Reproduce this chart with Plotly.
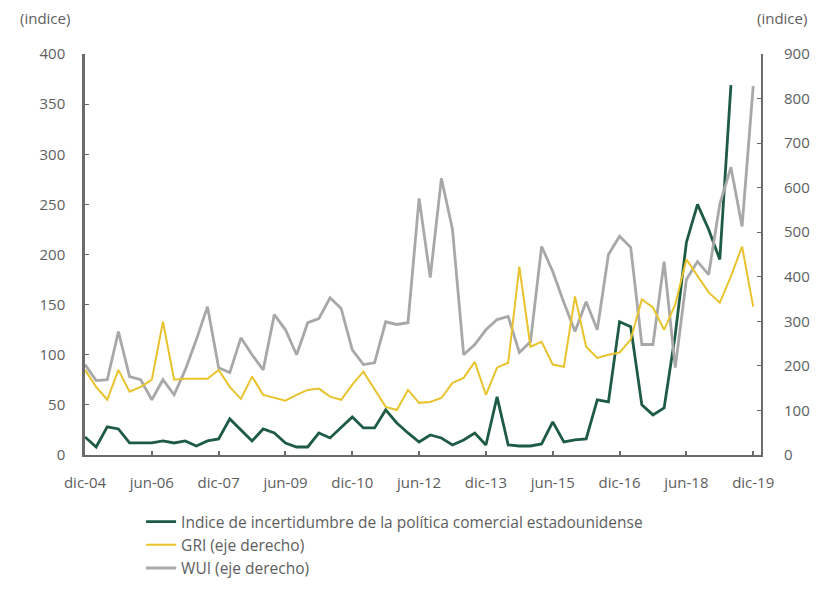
import plotly.graph_objects as go

quarters = [
    "dic-04",
    "mar-05", "jun-05", "sep-05", "dic-05",
    "mar-06", "jun-06", "sep-06", "dic-06",
    "mar-07", "jun-07", "sep-07", "dic-07",
    "mar-08", "jun-08", "sep-08", "dic-08",
    "mar-09", "jun-09", "sep-09", "dic-09",
    "mar-10", "jun-10", "sep-10", "dic-10",
    "mar-11", "jun-11", "sep-11", "dic-11",
    "mar-12", "jun-12", "sep-12", "dic-12",
    "mar-13", "jun-13", "sep-13", "dic-13",
    "mar-14", "jun-14", "sep-14", "dic-14",
    "mar-15", "jun-15", "sep-15", "dic-15",
    "mar-16", "jun-16", "sep-16", "dic-16",
    "mar-17", "jun-17", "sep-17", "dic-17",
    "mar-18", "jun-18", "sep-18", "dic-18",
    "mar-19", "jun-19", "sep-19", "dic-19",
]

tick_labels = ["dic-04", "jun-06", "dic-07", "jun-09", "dic-10", "jun-12",
               "dic-13", "jun-15", "dic-16", "jun-18", "dic-19"]

# Índice de incertidumbre de la política comercial estadounidense (eje izquierdo)
tpu = [18, 8, 28, 26, 12, 12, 12, 14, 12, 14, 9, 14, 16, 36, 25, 14,
       26, 22, 12, 8, 8, 22, 17, 27, 38, 27, 27, 45, 32, 22, 13, 20,
       17, 10, 15, 22, 10, 58, 10, 9, 9, 11, 33, 13, 15, 16, 55, 53,
       133, 128, 50, 40, 47, 120, 212, 250, 225, 195, 369, None, None]

# GRI (eje derecho)
gri = [191, 153, 124, 191, 142, 153, 169, 299, 169, 171, 171, 171, 191, 153, 126, 176,
       135, 128, 122, 135, 146, 149, 131, 124, 158, 187, 146, 108, 101, 146, 117, 119,
       128, 162, 173, 209, 135, 196, 207, 423, 243, 254, 203, 198, 356, 243, 218, 225,
       230, 259, 349, 331, 281, 338, 439, 401, 365, 342, 401, 468, 333]

# WUI (eje derecho)
wui = [203, 167, 169, 277, 176, 169, 124, 169, 135, 191, 259, 333, 196, 185, 263, 225,
       191, 315, 281, 225, 297, 306, 353, 329, 236, 203, 207, 299, 293, 297, 576, 398,
       621, 506, 225, 248, 281, 304, 311, 230, 254, 468, 412, 342, 277, 344, 281, 450,
       491, 466, 248, 248, 434, 196, 394, 434, 405, 563, 646, 513, 828]

GREEN = "#1e5b43"
GOLD = "#e8c32e"
GRAY = "#a8a8a8"
TEXT = "#5e5e5e"
AXIS = "#6b6b6b"
FONT = "Open Sans"

fig = go.Figure()
fig.add_trace(go.Scatter(x=quarters, y=wui, mode="lines", name="WUI (eje derecho)",
                         line=dict(color=GRAY, width=2.8), yaxis="y2"))
fig.add_trace(go.Scatter(x=quarters, y=gri, mode="lines", name="GRI (eje derecho)",
                         line=dict(color=GOLD, width=2), yaxis="y2"))
fig.add_trace(go.Scatter(x=quarters, y=tpu, mode="lines",
                         name="Indice de incertidumbre de la política comercial estadounidense",
                         line=dict(color=GREEN, width=2.8), yaxis="y"))

fig.update_layout(
    width=817, height=596,
    margin=dict(l=85, r=56, t=54, b=141, autoexpand=False),
    paper_bgcolor="white", plot_bgcolor="white",
    font=dict(family=FONT, size=15, color=TEXT),
    showlegend=True,
    legend=dict(x=0.083, y=-0.125, xanchor="left", yanchor="top",
                traceorder="reversed", font=dict(size=15.5, color=TEXT),
                itemwidth=30, tracegroupgap=0, bgcolor="rgba(0,0,0,0)"),
    xaxis=dict(type="category", categoryorder="array", categoryarray=quarters,
               range=[0, 60.7], tickmode="array", tickvals=tick_labels, ticktext=tick_labels,
               showline=True, linecolor=AXIS, linewidth=2, ticks="inside", ticklen=4,
               tickcolor=AXIS, tickwidth=1.5, showgrid=False, zeroline=False,
               tickfont=dict(size=15, color=TEXT), ticklabelstandoff=13, automargin=False),
    yaxis=dict(range=[0, 400], dtick=50, showline=True, linecolor=AXIS, linewidth=2.5,
               ticks="inside", ticklen=4, tickcolor=AXIS, showgrid=False, zeroline=False,
               tickfont=dict(size=15, color=TEXT), ticklabelstandoff=14, automargin=False),
    yaxis2=dict(range=[0, 900], dtick=100, overlaying="y", side="right", showline=True,
                linecolor=AXIS, linewidth=2, ticks="inside", ticklen=4, tickcolor=AXIS,
                showgrid=False, zeroline=False, tickfont=dict(size=15, color=TEXT),
                ticklabelstandoff=18, automargin=False),
    annotations=[
        dict(text="(indice)", xref="paper", yref="paper", x=-0.059, y=1.0, yshift=36,
             xanchor="center", yanchor="middle", showarrow=False,
             font=dict(size=15, color=TEXT)),
        dict(text="(indice)", xref="paper", yref="paper", x=1.031, y=1.0, yshift=36,
             xanchor="center", yanchor="middle", showarrow=False,
             font=dict(size=15, color=TEXT)),
    ],
)

fig.write_html("out.html")
